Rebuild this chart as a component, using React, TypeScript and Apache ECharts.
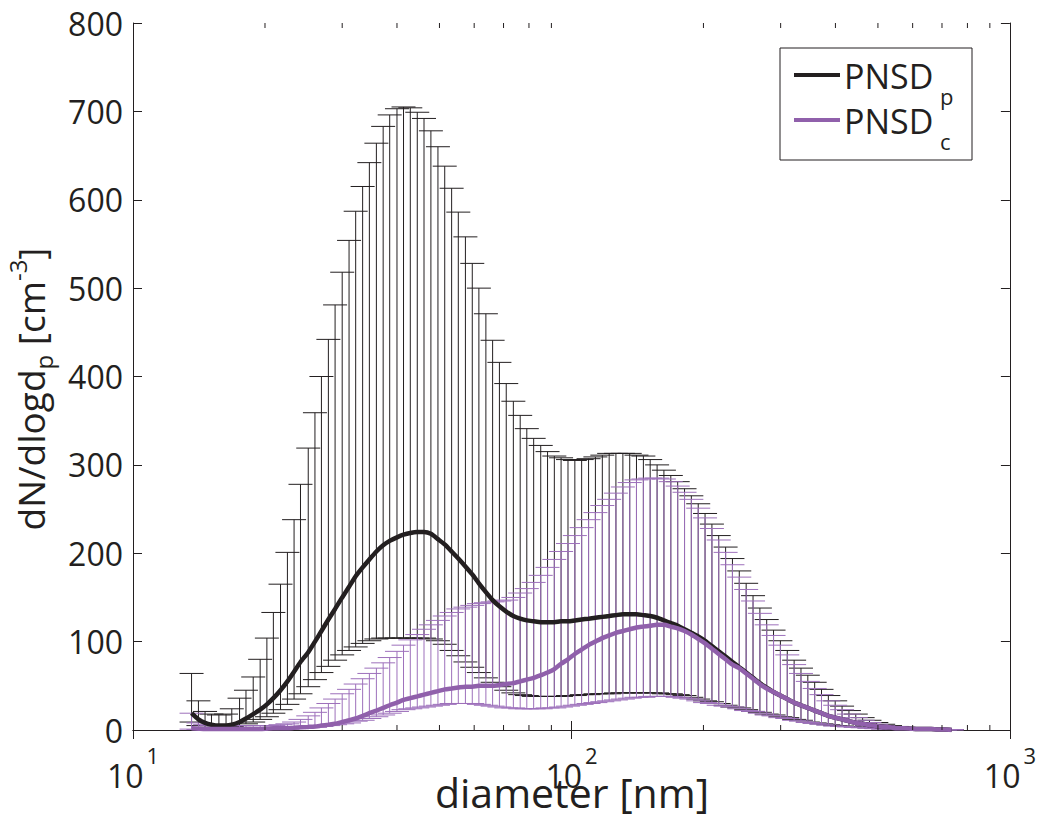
import React, { useEffect, useRef } from 'react';
import * as echarts from 'echarts';

// Mobility diameters of the SMPS channels [nm]
const diameters = [
  13.6, 14.1, 14.6, 15.1, 15.7, 16.3, 16.8, 17.5, 18.1, 18.8,
  19.5, 20.2, 20.9, 21.7, 22.5, 23.3, 24.1, 25.1, 26.0, 26.9,
  27.9, 28.9, 30.0, 31.1, 32.2, 33.4, 34.6, 35.9, 37.2, 38.5,
  40.0, 41.4, 42.9, 44.5, 46.1, 47.8, 49.6, 51.4, 53.3, 55.2,
  57.3, 59.4, 61.5, 63.8, 66.1, 68.5, 71.0, 73.7, 76.4, 79.1,
  82.0, 85.1, 88.2, 91.4, 94.7, 98.2, 101.8, 105.5, 109.4, 113.4,
  117.6, 121.9, 126.3, 131.0, 135.8, 140.7, 145.9, 151.2, 156.8, 162.5,
  168.5, 174.7, 181.1, 187.7, 194.6, 201.7, 209.1, 216.7, 224.7, 232.9,
  241.4, 250.3, 259.5, 269.0, 278.8, 289.0, 299.6, 310.6, 322.0, 333.8,
  346.0, 358.7, 371.8, 385.4, 399.5, 414.2, 429.4, 445.1, 461.4, 478.3,
  495.8, 514.0, 532.8, 552.3, 572.5, 593.5, 615.3, 637.8, 661.2, 685.4,
  710.5, 736.5,
];

// PNSD_p (black): mean, upper and lower end of the error bars
const blackMean = [
  19, 12, 8, 6, 5, 5, 6, 9, 13, 18,
  23, 29, 36, 45, 55, 66, 77, 88, 100, 112,
  125, 137, 150, 162, 174, 184, 193, 202, 209, 214,
  218, 221, 223, 224, 224, 222, 216, 210, 202, 194,
  185, 176, 166, 156, 147, 140, 134, 129, 126, 124,
  123, 122, 122, 122, 123, 123, 124, 125, 126, 127,
  128, 129, 130, 131, 131, 131, 130, 129, 127, 124,
  121, 118, 114, 110, 106, 101, 95, 89, 83, 77,
  71, 65, 59, 53, 48, 43, 39, 35, 31, 28,
  25, 22, 19, 16, 14, 12, 10, 8, 7, 5.5,
  4.5, 3.5, 3, 2, 2, 1.5, 1, 1, 1, 0.5,
  0.5, 0,
];
const blackUpper = [
  64, 33, 21, 18, 17, 18, 24, 36, 45, 60,
  80, 104, 133, 165, 201, 238, 278, 319, 359, 400,
  442, 481, 518, 554, 587, 615, 642, 664, 683, 696,
  703, 705, 704, 699, 692, 678, 660, 638, 613, 586,
  558, 528, 500, 471, 441, 416, 392, 372, 356, 341,
  330, 322, 315, 310, 308, 306, 305, 306, 307, 309,
  311, 313, 313, 313, 313, 311, 310, 306, 300, 294,
  288, 281, 273, 265, 256, 245, 233, 220, 207, 194,
  180, 166, 152, 138, 125, 113, 101, 90, 79, 70,
  62, 54, 46, 39, 33, 27, 22, 18, 14, 11,
  8.5, 6.5, 5, 4, 3, 2.5, 2, 1.5, 1, 1,
  0.5, 0.5,
];
const blackLower = [
  9, 5, 3, 3, 3, 3, 4, 5, 7, 9,
  12, 15, 19, 23, 29, 35, 41, 49, 57, 65,
  72, 79, 85, 90, 94, 98, 101, 103, 104, 104,
  104, 104, 104, 104, 104, 103, 101, 97, 90, 84,
  77, 71, 65, 59, 54, 49, 45, 42, 40, 39,
  38, 38, 38, 38, 38, 39, 39, 40, 40, 41,
  41, 41, 42, 42, 42, 42, 42, 42, 42, 41,
  41, 40, 39, 37, 35, 33, 32, 30, 28, 26,
  25, 23, 21, 20, 18, 17, 15, 14, 12, 11,
  9, 8, 7, 6, 5, 4.5, 4, 3.5, 3, 2.5,
  2, 1.5, 1, 1, 1, 0.5, 0.5, 0.5, 0, 0,
  0, 0,
];

// PNSD_c (purple): mean, upper and lower end of the error bars
const purpleMean = [
  2, 1.5, 1, 1, 1, 1, 1, 1, 1, 1,
  1, 1.5, 2, 2, 2, 2.5, 3, 3.5, 4, 5,
  6, 7, 9, 11, 13, 16, 19, 22, 25, 28,
  31, 34, 36, 38, 40, 42, 44, 46, 47, 48,
  49, 49, 50, 50, 50, 51, 52, 53, 55, 57,
  59, 62, 65, 69, 75, 80, 86, 91, 96, 100,
  104, 107, 110, 112, 114, 116, 117, 118, 119, 119,
  117, 115, 112, 108, 103, 98, 92, 86, 80, 74,
  70, 64, 58, 52, 47, 43, 39, 35, 31, 28,
  25, 22, 19, 16, 14, 12, 10, 8, 7, 5.5,
  4.5, 3.5, 3, 2, 2, 1.5, 1, 1, 1, 0.5,
  0.5, 0,
];
const purpleUpper = [
  19, 8, 6, 5, 5, 5, 5, 5, 5, 5,
  5, 5, 5, 6, 7, 9, 12, 16, 20, 25,
  30, 35, 41, 46, 52, 58, 64, 70, 76, 82,
  89, 96, 102, 108, 114, 119, 124, 129, 133, 137,
  139, 141, 143, 144, 145, 146, 147, 150, 155, 160,
  167, 175, 184, 193, 202, 211, 220, 229, 238, 246,
  254, 261, 268, 275, 280, 283, 284, 285, 285, 284,
  281, 276, 269, 261, 251, 240, 228, 215, 201, 187,
  173, 159, 146, 132, 119, 107, 96, 85, 74, 64,
  55, 47, 40, 33, 28, 23, 18, 14, 11, 8.5,
  6.5, 5, 4, 3, 2.5, 2, 1.5, 1, 1, 0.5,
  0.5, 0.5,
];
const purpleLower = [
  1, 0.5, 0.5, 0.5, 0.5, 0.5, 0.5, 0.5, 0.5, 0.5,
  0.5, 0.5, 1, 1, 1, 1.5, 2, 2.5, 3, 4,
  5, 6, 7, 8, 10, 11, 13, 15, 17, 19,
  21, 23, 24, 25, 26, 27, 28, 29, 30, 30,
  30, 30, 29, 28, 27, 26, 25, 25, 24, 24,
  24, 24, 25, 25, 26, 27, 28, 29, 30, 31,
  32, 33, 34, 35, 36, 37, 37, 38, 38, 38,
  38, 37, 36, 35, 33, 31, 30, 28, 27, 26,
  24, 22, 21, 19, 17, 16, 14, 13, 11, 10,
  8.5, 7.5, 6.5, 5.5, 4.5, 4, 3.5, 3, 2.5, 2,
  1.5, 1, 1, 0.5, 0.5, 0.5, 0.5, 0, 0, 0,
  0, 0,
];

const seriesNames = ['PNSD', 'PNSD'];
const seriesSubscripts = ['p', 'c'];
const minorTickValues = [20, 30, 40, 50, 60, 70, 80, 90, 200, 300, 400, 500, 600, 700, 800, 900];
const xAxisTitle = 'diameter [nm]';

const INK = '#231f20';
const PURPLE = '#9060ab';
const PURPLE_BAR = '#9d70bb';
const FONT = '"Open Sans", "Noto Sans", sans-serif';

export default function App() {
  const ref = useRef<HTMLDivElement>(null);

  useEffect(() => {
    if (!ref.current) return;
    const chart = echarts.init(ref.current, null, { renderer: 'svg' });

    const pairs = (ys: number[]) => diameters.map((d, i) => [d, ys[i]]);
    const bars = (lo: number[], hi: number[]) => diameters.map((d, i) => [d, lo[i], hi[i]]);
    const capHalf = 12;

    const errorRender = (color: string) => (params: any, api: any) => {
      const x = api.value(0);
      const a = api.coord([x, api.value(1)]);
      const b = api.coord([x, api.value(2)]);
      const style = { stroke: color, lineWidth: 1 };
      return {
        type: 'group',
        children: [
          { type: 'line', shape: { x1: a[0], y1: a[1], x2: b[0], y2: b[1] }, style },
          { type: 'line', shape: { x1: b[0] - capHalf, y1: b[1], x2: b[0] + capHalf, y2: b[1] }, style },
          { type: 'line', shape: { x1: a[0] - capHalf, y1: a[1], x2: a[0] + capHalf, y2: a[1] }, style },
        ],
      };
    };

    const minorRender = (params: any, api: any) => {
      const cs = params.coordSys;
      const x = api.coord([api.value(0), 0])[0];
      const style = { stroke: INK, lineWidth: 1 };
      const bottom = cs.y + cs.height;
      return {
        type: 'group',
        children: [
          { type: 'line', shape: { x1: x, y1: bottom, x2: x, y2: bottom - 5 }, style },
          { type: 'line', shape: { x1: x, y1: cs.y, x2: x, y2: cs.y + 5 }, style },
        ],
      };
    };

    const logAxisBase = {
      type: 'log',
      logBase: 10,
      min: 10,
      max: 1000,
      axisLine: { show: true, lineStyle: { color: INK, width: 1 } },
      axisTick: { show: true, inside: true, length: 9, lineStyle: { color: INK, width: 1 } },
      splitLine: { show: false },
    };
    const valueAxisBase = {
      type: 'value',
      min: 0,
      max: 800,
      interval: 100,
      axisLine: { show: true, lineStyle: { color: INK, width: 1 } },
      axisTick: { show: true, inside: true, length: 9, lineStyle: { color: INK, width: 1 } },
      splitLine: { show: false },
    };

    const legendRows = [75, 120];
    const legendColors = [INK, PURPLE];
    const legendGraphics: any[] = [
      {
        type: 'rect',
        shape: { x: 780, y: 48, width: 192, height: 112 },
        style: { fill: '#fff', stroke: INK, lineWidth: 1 },
        z: 100,
      },
    ];
    legendRows.forEach((y, k) => {
      legendGraphics.push({
        type: 'line',
        shape: { x1: 794, y1: y, x2: 840, y2: y },
        style: { stroke: legendColors[k], lineWidth: 4 },
        z: 101,
      });
      legendGraphics.push({
        type: 'text',
        x: 844,
        y: y + 1,
        style: { text: seriesNames[k], fontSize: 34, fontFamily: FONT, fill: INK, align: 'left', verticalAlign: 'middle' },
        z: 101,
      });
      legendGraphics.push({
        type: 'text',
        x: 940,
        y: y + 21,
        style: { text: seriesSubscripts[k], fontSize: 22, fontFamily: FONT, fill: INK, align: 'left', verticalAlign: 'middle' },
        z: 101,
      });
    });

    chart.setOption({
      animation: false,
      backgroundColor: '#fff',
      grid: { left: 133, right: 26, top: 23, bottom: 84, containLabel: false },
      xAxis: [
        {
          ...logAxisBase,
          position: 'bottom',
          axisLabel: {
            show: true,
            margin: 14,
            color: INK,
            fontFamily: FONT,
            formatter: (v: number) => `{b|10}{s|${Math.round(Math.log10(v))}}`,
            rich: {
              b: { fontSize: 32, fontFamily: FONT, color: INK, lineHeight: 62 },
              s: { fontSize: 22, fontFamily: FONT, color: INK, lineHeight: 16, verticalAlign: 'top', padding: [0, 0, 0, 3] },
            },
          },
        },
        { ...logAxisBase, position: 'top', axisLabel: { show: false } },
      ],
      yAxis: [
        {
          ...valueAxisBase,
          position: 'left',
          axisLabel: { show: true, margin: 10, color: INK, fontSize: 32, fontFamily: FONT },
        },
        { ...valueAxisBase, position: 'right', axisLabel: { show: false } },
      ],
      series: [
        {
          type: 'custom',
          name: 'PNSD_p range',
          renderItem: errorRender(INK),
          data: bars(blackLower, blackUpper),
          encode: { x: 0, y: [1, 2] },
          silent: true,
          z: 2,
        },
        {
          type: 'custom',
          name: 'PNSD_c range',
          renderItem: errorRender(PURPLE_BAR),
          data: bars(purpleLower, purpleUpper),
          encode: { x: 0, y: [1, 2] },
          silent: true,
          z: 2,
        },
        {
          type: 'line',
          name: 'PNSD_p',
          data: pairs(blackMean),
          showSymbol: false,
          symbol: 'none',
          smooth: 0.2,
          lineStyle: { color: INK, width: 4.5 },
          z: 3,
        },
        {
          type: 'line',
          name: 'PNSD_c',
          data: pairs(purpleMean),
          showSymbol: false,
          symbol: 'none',
          smooth: 0.2,
          lineStyle: { color: PURPLE, width: 4.5 },
          z: 3,
        },
        {
          type: 'custom',
          name: 'minor ticks',
          renderItem: minorRender,
          data: minorTickValues.map((v) => [v, 0]),
          encode: { x: 0, y: 1 },
          silent: true,
          z: 5,
        },
      ],
      graphic: [
        ...legendGraphics,
        {
          type: 'text',
          x: 572,
          y: 792,
          style: { text: xAxisTitle, fontSize: 41, lineHeight: 26, fontFamily: FONT, fill: INK, align: 'center', verticalAlign: 'middle' },
        },
        {
          type: 'text',
          x: 30,
          y: 389,
          rotation: Math.PI / 2,
          style: {
            text: '{n|dN/dlogd}{sub|p}{n| [cm}{sup|-3}{n|]}',
            align: 'center',
            verticalAlign: 'middle',
            rich: {
              n: { fontSize: 37, fontFamily: FONT, fill: INK, lineHeight: 50 },
              sub: { fontSize: 24, fontFamily: FONT, fill: INK, lineHeight: 16, verticalAlign: 'bottom' },
              sup: { fontSize: 24, fontFamily: FONT, fill: INK, lineHeight: 16, verticalAlign: 'top' },
            },
          },
        },
      ],
    });

    return () => chart.dispose();
  }, []);

  return <div ref={ref} style={{ position: 'fixed', left: 0, top: 0, width: 1039, height: 814, background: '#fff' }} />;
}
